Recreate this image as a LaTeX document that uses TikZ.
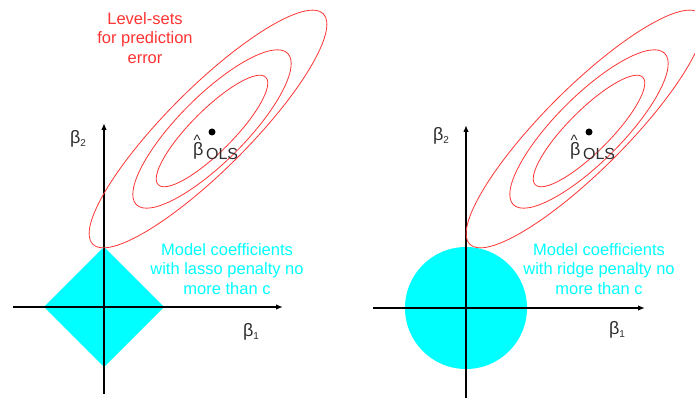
\documentclass[tikz,border=0pt]{standalone}
\usepackage{fontspec}
\setmainfont{Liberation Sans}
\usepackage{tikz}
\usetikzlibrary{arrows.meta, positioning, calc}
\definecolor{myred}{RGB}{255,51,51}
\definecolor{mycyan}{RGB}{0,255,255}
\definecolor{mydark}{RGB}{0,0,0}
\definecolor{mygray}{RGB}{45,45,45}
\newcommand{\subidx}[1]{\raisebox{-2.5pt}{\fontsize{10}{10}\selectfont #1}}
\newcommand{\hatbeta}{\rlap{\hspace{0.5pt}\raisebox{10pt}{\fontsize{15}{15}\selectfont\textasciicircum}}β}
\newcommand{\olsidx}{\hspace{2.5pt}\raisebox{-4pt}{\fontsize{16}{18}\selectfont OLS}}
\tikzset{
  axis/.style={line width=1.8pt, color=mydark, -{Latex[length=7pt,width=5.5pt]}},
  levelset/.style={draw=myred, line width=0.8pt},
  region/.style={fill=mycyan, draw=none},
  redtext/.style={font=\fontsize{16.5}{19.5}\selectfont, color=myred, align=center},
  cyantext/.style={font=\fontsize{16.5}{19.5}\selectfont, color=mycyan, align=center},
  betalabel/.style={font=\fontsize{18}{20}\selectfont, color=mygray, inner sep=0pt},
  olsdot/.style={circle, fill=mydark, inner sep=0pt, minimum size=7pt}
}

\begin{document}
\begin{tikzpicture}[x=1pt, y=1pt]
  \useasboundingbox (0,0) rectangle (695,398);

  % Lasso panel: constraint region
  \coordinate (o1) at (104,91);
  \fill[region] ($(o1)+(-60,0)$) -- ($(o1)+(0,60)$) -- ($(o1)+(60,0)$) -- ($(o1)+(0,-60)$) -- cycle;

  % Lasso panel: axes
  \coordinate (x1s) at (13,91);
  \coordinate (x1e) at (283,91);
  \coordinate (y1s) at (104,4);
  \coordinate (y1e) at (104,275);
  \draw[axis] (x1s) -- (x1e);
  \draw[axis] (y1s) -- (y1e);

  % Lasso panel: level sets
  \foreach \cx/\cy/\ra/\rb in {208/269/163/41, 212/269/107/33, 212/267/76/21}
    \draw[levelset, rotate around={45:(\cx,\cy)}] (\cx,\cy) ellipse [x radius=\ra, y radius=\rb];

  % Lasso panel: labels
  \node[olsdot] (dot1) at (212,266) {};
  \node[betalabel, anchor=base west] (bhat1) at (193,242) {\hatbeta\olsidx};
  \node[betalabel] (b2l) at (78,259) {β\subidx{2}};
  \node[betalabel] (b1l) at (251,66) {β\subidx{1}};
  \node[redtext] (lvl) at (145,360) {Level-sets\\for prediction\\error};
  \node[cyantext] (lasso) at (227,129) {Model coefficients\\with lasso penalty no\\more than c};

  % Ridge panel: constraint region
  \coordinate (o2) at (466,90);
  \fill[region] (o2) circle (61);

  % Ridge panel: axes
  \coordinate (x2s) at (373,90);
  \coordinate (x2e) at (645,90);
  \coordinate (y2s) at (466,0);
  \coordinate (y2e) at (466,273);
  \draw[axis] (x2s) -- (x2e);
  \draw[axis] (y2s) -- (y2e);

  % Ridge panel: level sets
  \foreach \cx/\cy/\ra/\rb in {585/269/163/41, 589/269/107/33, 589/267/76/21}
    \draw[levelset, rotate around={45:(\cx,\cy)}] (\cx,\cy) ellipse [x radius=\ra, y radius=\rb];

  % Ridge panel: labels
  \node[olsdot] (dot2) at (589,266) {};
  \node[betalabel, anchor=base west] (bhat2) at (570,242) {\hatbeta\olsidx};
  \node[betalabel] (b2r) at (441,262) {β\subidx{2}};
  \node[betalabel] (b1r) at (617,68) {β\subidx{1}};
  \node[cyantext] (ridge) at (599,129) {Model coefficients\\with ridge penalty no\\more than c};
\end{tikzpicture}
\end{document}
